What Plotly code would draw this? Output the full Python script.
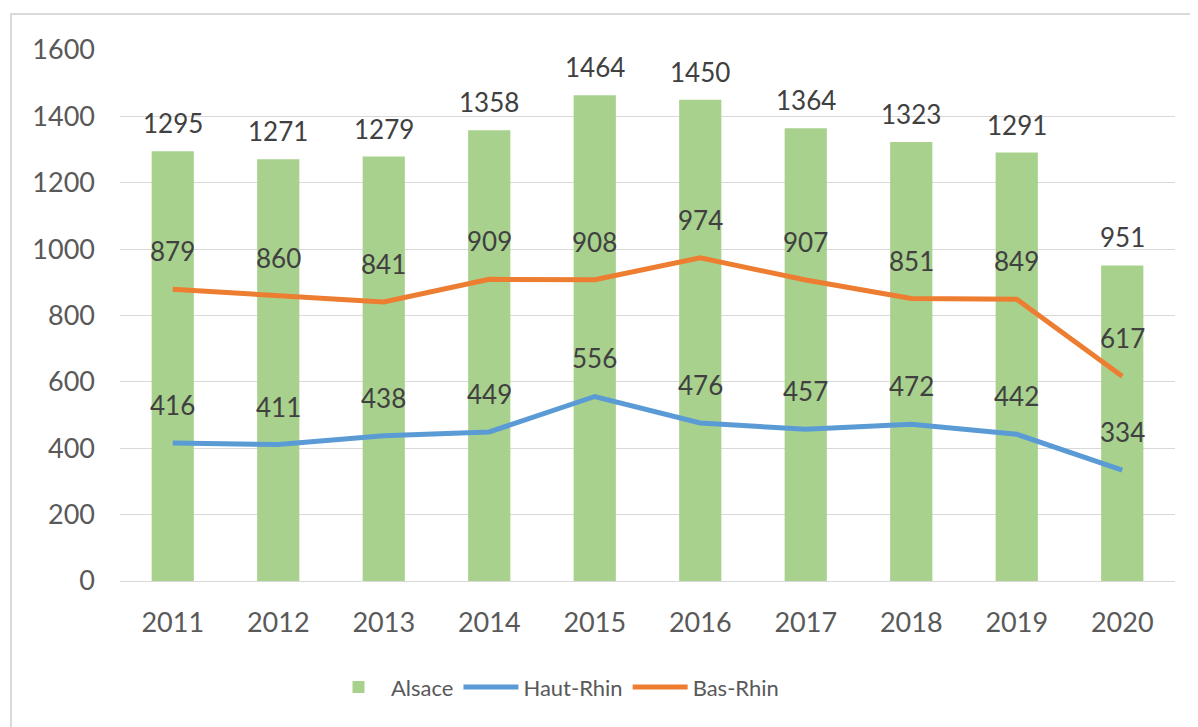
import plotly.graph_objects as go

years = ["2011", "2012", "2013", "2014", "2015", "2016", "2017", "2018", "2019", "2020"]
alsace = [1295, 1271, 1279, 1358, 1464, 1450, 1364, 1323, 1291, 951]
haut_rhin = [416, 411, 438, 449, 556, 476, 457, 472, 442, 334]
bas_rhin = [879, 860, 841, 909, 908, 974, 907, 851, 849, 617]

FONT = "Lato"
LABEL_COLOR = "#404040"
TICK_COLOR = "#595959"

fig = go.Figure()
fig.add_trace(go.Bar(x=years, y=alsace, name="Alsace", marker_color="#A9D18E",
                     marker_line_width=0))
fig.add_trace(go.Scatter(x=years, y=haut_rhin, name="Haut-Rhin", mode="lines",
                         line=dict(color="#5B9BD5", width=5)))
fig.add_trace(go.Scatter(x=years, y=bas_rhin, name="Bas-Rhin", mode="lines",
                         line=dict(color="#ED7D31", width=5)))

# on a category axis, annotation x is given as the category index
annotations = []
for i, v in enumerate(alsace):
    annotations.append(dict(x=i, y=v, text=str(v), showarrow=False, yanchor="middle",
                            yshift=28, font=dict(family=FONT, size=26, color=LABEL_COLOR)))
for series in (haut_rhin, bas_rhin):
    for i, v in enumerate(series):
        annotations.append(dict(x=i, y=v, text=str(v), showarrow=False, yanchor="middle",
                                yshift=38, font=dict(family=FONT, size=26, color=LABEL_COLOR)))

# page body has an 8px margin, so the figure is sized/offset to compensate
W, H = 1190, 719
L, T, R, B = 112, 42, 23, 146
PW, PH = W - L - R, H - T - B

fig.update_layout(
    width=W, height=H,
    margin=dict(l=L, r=R, t=T, b=B),
    paper_bgcolor="white", plot_bgcolor="white",
    bargap=0.6,
    font=dict(family=FONT, size=26, color=TICK_COLOR),
    showlegend=True,
    legend=dict(orientation="h", x=(555 - 8 - L) / PW, xanchor="center",
                y=-0.2, yanchor="middle",
                font=dict(family=FONT, size=22, color=TICK_COLOR),
                itemwidth=55, tracegroupgap=0),
    annotations=annotations,
    shapes=[dict(type="rect", xref="paper", yref="paper",
                 x0=(3 - L) / PW, x1=(W + 20 - L) / PW,
                 y0=-(B + 20) / PH, y1=(PH + T - 6) / PH,
                 line=dict(color="#D9D9D9", width=2), fillcolor="rgba(0,0,0,0)",
                 layer="below")],
)
fig.update_xaxes(type="category", range=[-0.5, len(years) - 0.5], showgrid=False,
                 showline=True, linecolor="#D9D9D9",
                 linewidth=1, ticks="", ticklabelstandoff=18,
                 tickfont=dict(family=FONT, size=27, color=TICK_COLOR))
fig.update_yaxes(range=[0, 1600], dtick=200, showgrid=True, gridcolor="#D9D9D9",
                 gridwidth=1, zeroline=False, showline=False, ticks="",
                 ticklabelstandoff=24,
                 tickfont=dict(family=FONT, size=27, color=TICK_COLOR))

fig.write_html("out.html")
